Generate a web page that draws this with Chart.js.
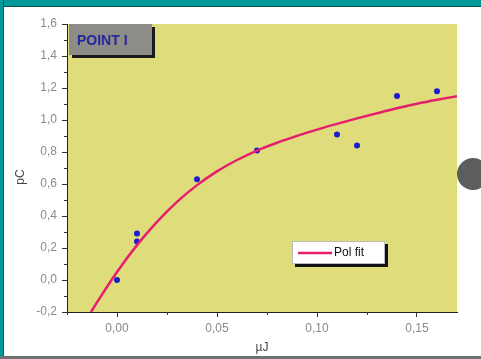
<!DOCTYPE html>
<html>
<head>
<meta charset="utf-8">
<script src="https://cdn.jsdelivr.net/npm/chart.js@4"></script>
<style>
  html, body { margin: 0; padding: 0; background: #ffffff; }
  #wrap { position: relative; width: 481px; height: 359px; overflow: hidden; background: #ffffff; }
  #chart { position: absolute; left: 0; top: 0; }
  .topbar { position: absolute; left: 0; top: 0; width: 481px; height: 6px; background: #00999a; border-bottom: 1px solid #0b4c4c; }
  .leftbar { position: absolute; left: 0; top: 0; width: 3px; height: 359px; background: #00999a; border-right: 1px solid #0b5a5a; }
  .bottomline { position: absolute; left: 0; top: 356px; width: 481px; height: 3px; background: #6f7272; }
  .knob { position: absolute; left: 457px; top: 158px; width: 32px; height: 32px; border-radius: 50%; background: #5c5d5d; }
</style>
</head>
<body>
<div id="wrap">
  <canvas id="chart" width="481" height="359"></canvas>
  <div class="topbar"></div>
  <div class="leftbar"></div>
  <div class="bottomline"></div>
  <div class="knob"></div>
</div>
<script>
// Measured points (energy in µJ, charge in pC)
const energyUJ = [0.00, 0.01, 0.01, 0.04, 0.07, 0.11, 0.12, 0.14, 0.16];
const chargePC = [0.00, 0.24, 0.29, 0.63, 0.81, 0.91, 0.84, 1.15, 1.18];

// Polynomial fit curve, sampled
const fitX = [-0.013, -0.01, 0.00, 0.01, 0.02, 0.03, 0.04, 0.05, 0.06, 0.07, 0.08, 0.09, 0.10, 0.11, 0.12, 0.13, 0.14, 0.15, 0.16, 0.17];
const fitY = [-0.200, -0.140, 0.050, 0.218, 0.363, 0.488, 0.593, 0.679, 0.750, 0.809, 0.858, 0.901, 0.940, 0.976, 1.010, 1.042, 1.073, 1.101, 1.126, 1.149];

// Axis ticks
const xMajorTicks = [0.00, 0.05, 0.10, 0.15];
const xMinorTicks = [-0.025, 0.025, 0.075, 0.125];
const yMajorTicks = [-0.2, 0.0, 0.2, 0.4, 0.6, 0.8, 1.0, 1.2, 1.4, 1.6];
const yMinorTicks = [-0.1, 0.1, 0.3, 0.5, 0.7, 0.9, 1.1, 1.3, 1.5];

const panelTitle = 'POINT I';
const fitLabel = 'Pol fit';

const comma = (v, d) => v.toFixed(d).replace('.', ',');

const plotBackground = {
  id: 'plotBackground',
  beforeDraw(chart) {
    const { ctx, chartArea: a } = chart;
    ctx.save();
    ctx.fillStyle = '#dedc7b';
    ctx.fillRect(a.left, a.top, a.right - a.left, a.bottom - a.top);
    ctx.restore();
  }
};

const decorations = {
  id: 'decorations',
  afterDraw(chart) {
    const { ctx, chartArea: a, scales } = chart;
    const xs = scales.x, ys = scales.y;
    ctx.save();
    // minor ticks
    ctx.strokeStyle = '#333333';
    ctx.lineWidth = 1;
    ctx.beginPath();
    xMinorTicks.forEach(v => {
      const px = Math.round(xs.getPixelForValue(v)) + 0.5;
      ctx.moveTo(px, a.bottom); ctx.lineTo(px, a.bottom + 3);
    });
    yMinorTicks.forEach(v => {
      const py = Math.round(ys.getPixelForValue(v)) + 0.5;
      ctx.moveTo(a.left, py); ctx.lineTo(a.left - 3, py);
    });
    ctx.stroke();

    // y axis title
    ctx.fillStyle = '#444444';
    ctx.font = '12px Arial, "Liberation Sans", sans-serif';
    ctx.textAlign = 'center';
    ctx.textBaseline = 'middle';
    ctx.translate(21, 177);
    ctx.rotate(-Math.PI / 2);
    ctx.fillText('pC', 0, 0);
    ctx.setTransform(1, 0, 0, 1, 0, 0);

    // panel title box
    const bx = a.left + 2, by = a.top, bw = 83, bh = 31;
    ctx.fillStyle = '#1a1a1a';
    ctx.fillRect(bx + 3, by + 3, bw, bh);
    ctx.fillStyle = '#8d8c89';
    ctx.fillRect(bx, by, bw, bh);
    ctx.fillStyle = '#26289a';
    ctx.font = 'bold 14px Arial, "Liberation Sans", sans-serif';
    ctx.textAlign = 'left';
    ctx.textBaseline = 'middle';
    ctx.fillText(panelTitle, bx + 8, by + 17);

    // legend box
    const fit = chart.data.datasets[0];
    const lx = 292, ly = 241, lw = 93, lh = 23;
    ctx.fillStyle = '#111111';
    ctx.fillRect(lx + 3, ly + 3, lw, lh);
    ctx.fillStyle = '#ffffff';
    ctx.fillRect(lx, ly, lw, lh);
    ctx.strokeStyle = '#bbbbbb';
    ctx.strokeRect(lx + 0.5, ly + 0.5, lw - 1, lh - 1);
    ctx.strokeStyle = fit.borderColor;
    ctx.lineWidth = 2.5;
    ctx.beginPath();
    ctx.moveTo(lx + 6, ly + 12); ctx.lineTo(lx + 40, ly + 12);
    ctx.stroke();
    ctx.fillStyle = '#111111';
    ctx.font = '12px Arial, "Liberation Sans", sans-serif';
    ctx.fillText(fitLabel, lx + 42, ly + 12);
    ctx.restore();
  }
};

const fixedWidth = w => scale => { scale.width = w; };
const fixedHeight = h => scale => { scale.height = h; };

new Chart(document.getElementById('chart'), {
  type: 'scatter',
  data: {
    datasets: [
      {
        label: fitLabel,
        data: fitX.map((x, i) => ({ x, y: fitY[i] })),
        showLine: true,
        borderColor: '#e61f6c',
        borderWidth: 2.5,
        pointRadius: 0,
        cubicInterpolationMode: 'monotone',
        fill: false,
        clip: 0
      },
      {
        label: 'data',
        data: energyUJ.map((x, i) => ({ x, y: chargePC[i] })),
        showLine: false,
        backgroundColor: '#1d1dcc',
        borderColor: '#1d1dcc',
        pointRadius: 3,
        borderWidth: 0
      }
    ]
  },
  options: {
    responsive: false,
    animation: false,
    events: [],
    layout: { padding: { left: 0, right: 24, top: 24, bottom: 0 } },
    plugins: { legend: { display: false }, tooltip: { enabled: false } },
    scales: {
      x: {
        type: 'linear',
        min: -0.025,
        max: 0.17,
        afterBuildTicks: s => { s.ticks = xMajorTicks.map(value => ({ value })); },
        afterFit: fixedHeight(47),
        ticks: {
          color: '#8a8a8a',
          font: { family: 'Arial, "Liberation Sans", sans-serif', size: 12 },
          padding: 4,
          maxRotation: 0,
          callback: v => comma(v, 2)
        },
        grid: { drawOnChartArea: false, drawTicks: true, tickLength: 5, color: '#333333' },
        border: { display: true, color: '#222222', width: 1 },
        title: {
          display: true,
          text: 'µJ',
          color: '#444444',
          font: { family: 'Arial, "Liberation Sans", sans-serif', size: 12 },
          padding: { top: 0, bottom: 4 }
        }
      },
      y: {
        type: 'linear',
        min: -0.2,
        max: 1.6,
        afterBuildTicks: s => { s.ticks = yMajorTicks.map(value => ({ value })); },
        afterFit: fixedWidth(67),
        ticks: {
          color: '#8a8a8a',
          font: { family: 'Arial, "Liberation Sans", sans-serif', size: 12 },
          padding: 5,
          callback: v => comma(v, 1)
        },
        grid: { drawOnChartArea: false, drawTicks: true, tickLength: 5, color: '#333333' },
        border: { display: true, color: '#222222', width: 1 }
      }
    }
  },
  plugins: [plotBackground, decorations]
});
</script>
</body>
</html>
